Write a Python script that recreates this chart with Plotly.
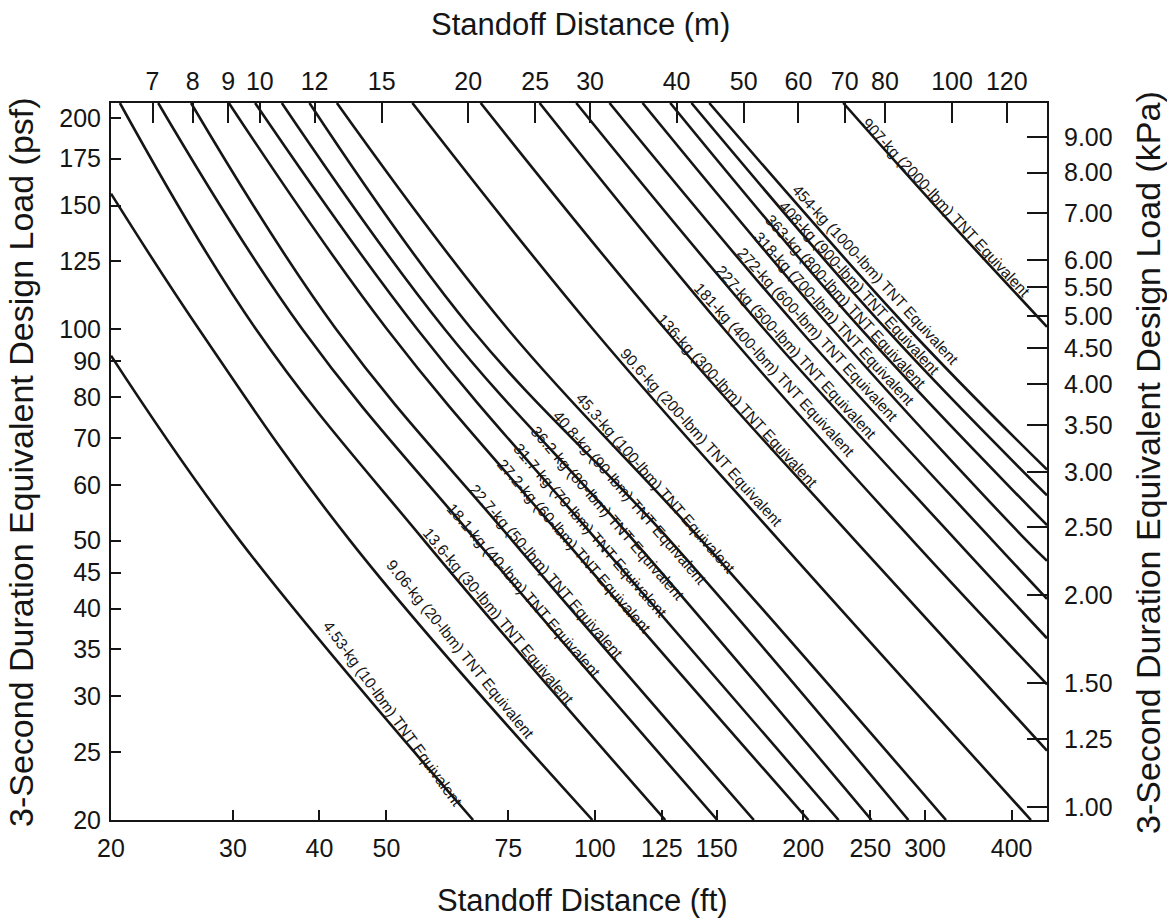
import math
import plotly.graph_objects as go

# ---------------- data ----------------
charge_lbm = [10, 20, 30, 40, 50, 60, 70, 80, 90, 100,
              200, 300, 400, 500, 600, 700, 800, 900, 1000, 2000]
charge_kg = ["4.53", "9.06", "13.6", "18.1", "22.7", "27.2", "31.7", "36.2", "40.8", "45.3",
             "90.6", "136", "181", "227", "272", "318", "363", "408", "454", "907"]

# standoff distance (ft) along each curve
curve_standoff_ft = [
    [20.0, 30.7, 66.7],
    [20.0, 26.8, 44.3, 99.2],
    [20.6, 32.4, 56.7, 126.4],
    [23.4, 37.8, 67.4, 150.3],
    [26.1, 42.3, 76.0, 169.7],
    [29.6, 50.1, 90.6, 203.5],
    [32.3, 55.4, 100.8, 225.0],
    [35.3, 60.7, 113.8, 251.0],
    [38.7, 66.4, 128.4, 283.8],
    [42.4, 74.9, 142.7, 321.6],
    [54.5, 99.4, 184.7, 426.6],
    [68.4, 126.4, 237.7, 450.0],
    [83.2, 153.8, 287.9, 450.0],
    [94.0, 175.7, 332.9, 450.0],
    [105.0, 197.4, 375.6, 450.0],
    [117.2, 220.3, 420.5, 450.0],
    [128.5, 242.5, 450.0],
    [137.9, 263.6, 450.0],
    [146.3, 284.4, 450.0],
    [228.5, 310.0, 450.0],
]
# 3-second equivalent design load (psf) along each curve
curve_load_psf = [
    [91.7, 50, 20],
    [156, 100, 50, 20],
    [210, 100, 50, 20],
    [210, 100, 50, 20],
    [210, 100, 50, 20],
    [210, 100, 50, 20],
    [210, 100, 50, 20],
    [210, 100, 50, 20],
    [210, 100, 50, 20],
    [210, 100, 50, 20],
    [210, 100, 50, 20],
    [210, 100, 50, 25.1],
    [210, 100, 50, 31.2],
    [210, 100, 50, 36.3],
    [210, 100, 50, 41.3],
    [210, 100, 50, 46.8],
    [210, 100, 52.6],
    [210, 100, 58.0],
    [210, 100, 63.1],
    [210, 150, 100.8],
]

ft_ticks = [20, 30, 40, 50, 75, 100, 125, 150, 200, 250, 300, 400]
m_ticks = [7, 8, 9, 10, 12, 15, 20, 25, 30, 40, 50, 60, 70, 80, 100, 120]
psf_ticks = [20, 25, 30, 35, 40, 45, 50, 60, 70, 80, 90, 100, 125, 150, 175, 200]
kpa_ticks = [1.00, 1.25, 1.50, 2.00, 2.50, 3.00, 3.50, 4.00, 4.50, 5.00, 5.50, 6.00, 7.00, 8.00, 9.00]

# ---------------- layout constants ----------------
FT_MIN, FT_MAX = 20, 450
PSF_MIN, PSF_MAX = 20, 210
FT_TO_M = 0.3048
PSF_TO_KPA = 0.04788

# label positions (ft, psf) and rotation
label_ft = [51.1, 64.0, 72.7, 78.9, 85.1, 93.5, 98.5, 104.4, 112.2, 122.6,
            142.7, 160.6, 181.6, 195.7, 209.8, 221.7, 230.4, 240.9, 254.4, 321.6]
label_psf = [28.4, 35.0, 39.0, 42.4, 45.2, 49.1, 51.7, 54.6, 57.5, 60.3,
             70.2, 79.2, 87.6, 92.8, 98.2, 103.7, 109.5, 114.7, 119.8, 148.9]
label_angle = [54, 51, 50, 49, 49, 49, 49, 49, 49, 49,
               48, 47.5, 47.5, 47.5, 47.5, 47.5, 47.5, 47.5, 47.5, 47]

FONT = "Arial, Liberation Sans, Helvetica, sans-serif"
INK = "#151515"

fig = go.Figure()

for xs, ys in zip(curve_standoff_ft, curve_load_psf):
    fig.add_trace(go.Scatter(
        x=xs, y=ys, mode="lines",
        line=dict(color=INK, width=2.6, shape="spline", smoothing=1.1),
        hoverinfo="skip", showlegend=False, cliponaxis=True,
    ))

# invisible helper trace so the metric axes (top / right) are drawn
fig.add_trace(go.Scatter(
    x=[FT_MIN * FT_TO_M, FT_MAX * FT_TO_M],
    y=[PSF_MIN * PSF_TO_KPA, PSF_MAX * PSF_TO_KPA],
    xaxis="x2", yaxis="y2", mode="lines", opacity=0,
    hoverinfo="skip", showlegend=False,
))

for lb, kg, lx, ly, ang in zip(charge_lbm, charge_kg, label_ft, label_psf, label_angle):
    fig.add_annotation(
        x=math.log10(lx), y=math.log10(ly), xref="x", yref="y",
        text=f"{kg}-kg ({lb}-lbm) TNT Equivalent",
        textangle=ang, showarrow=False,
        font=dict(family=FONT, size=15.5, color=INK),
        xanchor="center", yanchor="middle",
    )

axis_common = dict(
    type="log", showgrid=False, zeroline=False, showline=True,
    linecolor=INK, linewidth=2, ticks="inside", tickcolor=INK, tickwidth=2,
    tickfont=dict(family=FONT, size=25, color=INK),
)

fig.update_layout(
    width=1167, height=921, autosize=False,
    margin=dict(l=111, r=120, t=103, b=101),
    paper_bgcolor="white", plot_bgcolor="white",
    showlegend=False,
    xaxis=dict(
        **axis_common,
        range=[math.log10(FT_MIN), math.log10(FT_MAX)],
        tickvals=ft_ticks, ticktext=[str(v) for v in ft_ticks],
        ticklen=10, ticklabelstandoff=5,
    ),
    xaxis2=dict(
        **axis_common,
        overlaying="x", side="top", anchor="y",
        range=[math.log10(FT_MIN * FT_TO_M), math.log10(FT_MAX * FT_TO_M)],
        tickvals=m_ticks, ticktext=[str(v) for v in m_ticks],
        ticklen=20, ticklabelstandoff=1,
    ),
    yaxis=dict(
        **axis_common,
        range=[math.log10(PSF_MIN), math.log10(PSF_MAX)],
        tickvals=psf_ticks, ticktext=[str(v) for v in psf_ticks],
        ticklen=10, ticklabelstandoff=3,
    ),
    yaxis2=dict(
        **axis_common,
        overlaying="y", side="right", anchor="x",
        range=[math.log10(PSF_MIN * PSF_TO_KPA), math.log10(PSF_MAX * PSF_TO_KPA)],
        tickvals=kpa_ticks, ticktext=[f"{v:.2f}" for v in kpa_ticks],
        ticklen=20, ticklabelstandoff=10,
    ),
)

titles = [
    ("Standoff Distance (ft)", 0.504, -0.1116, 0, 31),
    ("Standoff Distance (m)", 0.502, 1.1088, 0, 31),
    ("3-Second Duration Equivalent Design Load (psf)", -0.0962, 0.4993, -90, 34),
    ("3-Second Duration Equivalent Design Load (kPa)", 1.1079, 0.4993, -90, 34),
]
for txt, px, py, ang, sz in titles:
    fig.add_annotation(
        x=px, y=py, xref="paper", yref="paper", text=txt, textangle=ang,
        showarrow=False, xanchor="center", yanchor="middle",
        font=dict(family=FONT, size=sz, color=INK),
    )

fig.write_html(
    "out.html",
    config={"displayModeBar": False},
    post_script="document.body.style.margin='0px';",
)
